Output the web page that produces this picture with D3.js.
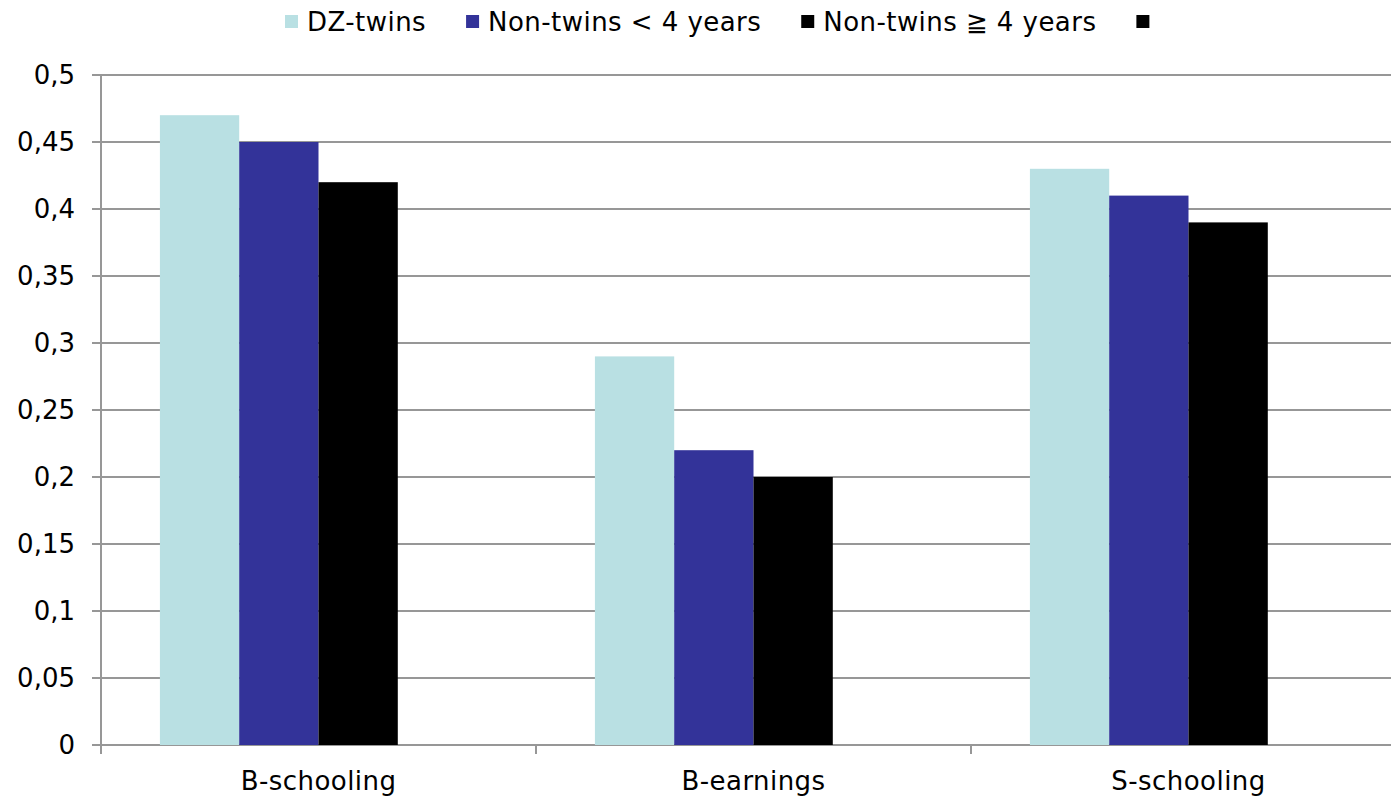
<!DOCTYPE html>
<html>
<head>
<meta charset="utf-8">
<script src="https://cdn.jsdelivr.net/npm/d3@7"></script>
<style>
  html, body { margin: 0; padding: 0; background: #fff; }
  svg { display: block; font-family: Verdana, "DejaVu Sans", sans-serif; }
</style>
</head>
<body>
<svg id="chart" width="1391" height="798"></svg>
<script>
// chart data
const categories = ['B-schooling', 'B-earnings', 'S-schooling'];
const seriesNames = ['DZ-twins', 'Non-twins < 4 years', 'Non-twins \u2267 4 years', ''];
const seriesColors = ['#b9e0e3', '#333399', '#000000', '#000000'];
const dzTwins = [0.47, 0.29, 0.43];
const nonTwinsUnder4 = [0.45, 0.22, 0.41];
const nonTwinsOver4 = [0.42, 0.20, 0.39];
const emptySeries = [null, null, null]; // 4th legend entry has no bars
const yTicks = [0, 0.05, 0.1, 0.15, 0.2, 0.25, 0.3, 0.35, 0.4, 0.45, 0.5];

const seriesValues = [dzTwins, nonTwinsUnder4, nonTwinsOver4, emptySeries];

const svg = d3.select('#chart');
const margin = { top: 75, left: 101, bottom: 53 };
const plotRight = 1406; // plot runs a little past the window edge
const height = 798;
const fontSize = 26;
const spacing = '0.45px'; // dejavu is a bit narrower than verdana

const locale = d3.formatLocale({ decimal: ',', thousands: '.', grouping: [3], currency: ['', ''] });
const fmt = locale.format('.2~f');

const x0 = d3.scaleBand()
  .domain(categories)
  .range([margin.left, plotRight])
  .padding(0);

const x1 = d3.scaleBand()
  .domain(d3.range(seriesNames.length))
  .range([0, x0.bandwidth()])
  .paddingInner(0)
  .paddingOuter(0.743);

const y = d3.scaleLinear()
  .domain([0, 0.5])
  .range([height - margin.bottom, margin.top]);

const gridColor = '#979797';

// gridlines
svg.append('g')
  .selectAll('line')
  .data(yTicks)
  .join('line')
  .attr('x1', margin.left - 9)
  .attr('x2', plotRight)
  .attr('y1', d => y(d))
  .attr('y2', d => y(d))
  .attr('stroke', gridColor)
  .attr('stroke-width', 2);

// bars
categories.forEach((cat, ci) => {
  const g = svg.append('g').attr('transform', 'translate(' + x0(cat) + ',0)');
  seriesValues.forEach((vals, si) => {
    const v = vals[ci];
    if (v === null) return;
    g.append('rect')
      .attr('x', x1(si))
      .attr('width', x1.bandwidth())
      .attr('y', y(v))
      .attr('height', y(0) - y(v))
      .attr('fill', seriesColors[si]);
  });
});

// y axis
const yAxis = svg.append('g')
  .attr('transform', 'translate(' + margin.left + ',0)')
  .call(d3.axisLeft(y).tickValues(yTicks).tickFormat(fmt).tickSize(0).tickPadding(26));
yAxis.select('.domain').remove();
yAxis.selectAll('text')
  .attr('font-size', fontSize)
  .attr('fill', '#000')
  .attr('font-family', 'Verdana, "DejaVu Sans", sans-serif');
svg.append('line')
  .attr('x1', margin.left).attr('x2', margin.left)
  .attr('y1', margin.top).attr('y2', y(0) + 9)
  .attr('stroke', gridColor).attr('stroke-width', 2);

// x axis
const xTickPositions = categories.map(c => x0(c)).concat([plotRight]);
svg.append('g')
  .selectAll('line')
  .data(xTickPositions)
  .join('line')
  .attr('x1', d => d).attr('x2', d => d)
  .attr('y1', y(0)).attr('y2', y(0) + 9)
  .attr('stroke', gridColor).attr('stroke-width', 2);

svg.append('g')
  .selectAll('text')
  .data(categories)
  .join('text')
  .attr('x', d => x0(d) + x0.bandwidth() / 2)
  .attr('y', y(0) + 45)
  .attr('text-anchor', 'middle')
  .attr('font-size', fontSize)
  .attr('letter-spacing', spacing)
  .text(d => d);

// legend
const legend = svg.append('g');
let lx = 0;
seriesNames.forEach((name, i) => {
  const item = legend.append('g').attr('transform', 'translate(' + lx + ',0)');
  item.append('rect')
    .attr('x', 0).attr('y', 15)
    .attr('width', 13).attr('height', 13)
    .attr('fill', seriesColors[i]);
  const t = item.append('text')
    .attr('x', 22).attr('y', 31)
    .attr('font-size', fontSize)
    .attr('letter-spacing', spacing)
    .text(name);
  const w = name ? t.node().getComputedTextLength() : 0;
  lx += 22 + w + 40;
});
legend.attr('transform', 'translate(285,0)');
</script>
</body>
</html>
